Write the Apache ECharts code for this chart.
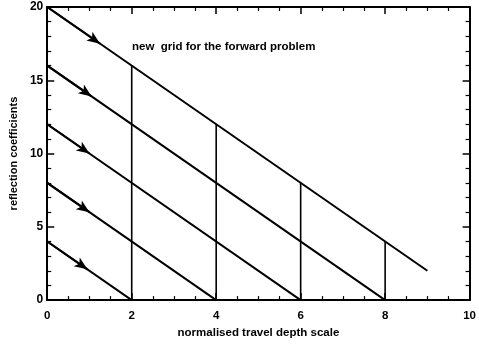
<!DOCTYPE html>
<html><head><meta charset="utf-8">
<script src="https://cdn.jsdelivr.net/npm/echarts@6/dist/echarts.min.js"></script>
<style>html,body{margin:0;padding:0;background:#fff}#c{width:479px;height:344px}</style>
</head><body><div id="c"></div>
<script>
const diagStartX = [0, 0, 0, 0, 0];
const diagStartY = [20, 16, 12, 8, 4];
const diagEndX = [9, 8, 6, 4, 2];
const diagEndY = [2, 0, 0, 0, 0];
const vertX = [2, 4, 6, 8];
const vertTop = [16, 12, 8, 4];
const arrowTipX = [1.25, 1.05, 1.0, 1.0, 0.95];
const xTicks = [0, 2, 4, 6, 8, 10];
const yTicks = [0, 5, 10, 15, 20];
const annotation = 'new  grid for the forward problem';
const xName = 'normalised travel depth scale';
const yName = 'reflection coefficients';

const font = 'Liberation Sans, Arial, sans-serif';
const series = [];
diagStartY.forEach((y0, i) => {
  series.push({
    type: 'line', xAxisIndex: 0, yAxisIndex: 0, symbol: 'none', silent: true,
    lineStyle: { color: '#000', width: 2 },
    data: [[diagStartX[i], y0], [diagEndX[i], diagEndY[i]]],
    markLine: {
      silent: true, symbol: ['none', 'arrow'], symbolSize: [8, 13],
      lineStyle: { color: '#000', width: 2, type: 'solid' }, label: { show: false },
      data: [[{ coord: [diagStartX[i], y0] }, { coord: [arrowTipX[i], y0 - 2 * arrowTipX[i]] }]]
    }
  });
});
vertX.forEach((x, i) => {
  series.push({
    type: 'line', xAxisIndex: 0, yAxisIndex: 0, symbol: 'none', silent: true,
    lineStyle: { color: '#000', width: 1.6 },
    data: [[x, 0], [x, vertTop[i]]]
  });
});

const axisCommon = {
  type: 'value', axisLine: { show: true, onZero: false, lineStyle: { color: '#000', width: 2 } },
  axisTick: { show: true, inside: true, length: 7, lineStyle: { color: '#000', width: 1.5 } },
  minorTick: { show: true, length: 4, lineStyle: { color: '#000', width: 1.2 } },
  splitLine: { show: false }
};
const chart = echarts.init(document.getElementById('c'));
chart.setOption({
  animation: false,
  grid: { left: 46, right: 6, top: 7, bottom: 40 },
  xAxis: [
    Object.assign({}, axisCommon, { min: xTicks[0], max: xTicks[xTicks.length - 1], interval: 2, position: 'bottom',
      minorTick: Object.assign({}, axisCommon.minorTick, { splitNumber: 4 }),
      axisLabel: { color: '#000', fontFamily: font, fontWeight: 'bold', fontSize: 11.5, margin: 10 },
      name: xName, nameLocation: 'middle', nameGap: 24,
      nameTextStyle: { color: '#000', fontFamily: font, fontWeight: 'bold', fontSize: 11.5 } }),
    Object.assign({}, axisCommon, { min: xTicks[0], max: xTicks[xTicks.length - 1], interval: 2, position: 'top',
      minorTick: Object.assign({}, axisCommon.minorTick, { splitNumber: 4 }),
      axisLabel: { show: false } })
  ],
  yAxis: [
    Object.assign({}, axisCommon, { min: yTicks[0], max: yTicks[yTicks.length - 1], interval: 5, position: 'left',
      minorTick: Object.assign({}, axisCommon.minorTick, { splitNumber: 5 }),
      axisLabel: { color: '#000', fontFamily: font, fontWeight: 'bold', fontSize: 12, margin: 4 },
      name: yName, nameLocation: 'middle', nameGap: 22, nameRotate: 90,
      nameTextStyle: { color: '#000', fontFamily: font, fontWeight: 'bold', fontSize: 11 } }),
    Object.assign({}, axisCommon, { min: yTicks[0], max: yTicks[yTicks.length - 1], interval: 5, position: 'right',
      minorTick: Object.assign({}, axisCommon.minorTick, { splitNumber: 5 }),
      axisLabel: { show: false } })
  ],
  graphic: [{
    type: 'text', left: 132, top: 41,
    style: { text: annotation, fill: '#000', font: 'bold 11.5px ' + font }
  }],
  series: series
});
</script></body></html>
